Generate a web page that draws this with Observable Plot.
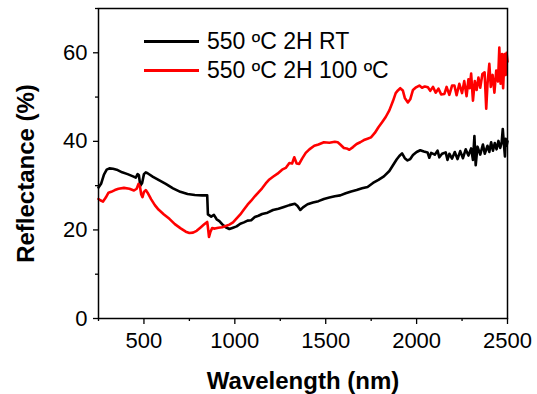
<!DOCTYPE html>
<html>
<head>
<meta charset="utf-8">
<script src="https://cdn.jsdelivr.net/npm/d3@7"></script>
<script src="https://cdn.jsdelivr.net/npm/@observablehq/plot@0.6"></script>
<style>
  body { margin: 0; background: white; }
  #wrap { position: relative; width: 537px; height: 394px; font-family: 'Liberation Sans', Arial, sans-serif; }
  #legend { position: absolute; left: 144px; top: 27px; }
  .row { display: flex; align-items: center; height: 29px; }
  .sw { width: 55px; height: 3px; margin-right: 8px; }
  .lab { font-size: 23px; color: black; white-space: nowrap; line-height: 29px; }
</style>
</head>
<body>
<div id="wrap"><div id="legend"></div></div>
<script>
const seriesNames = ["550 ºC 2H RT", "550 ºC 2H 100 ºC"];
const seriesColors = ["#000000", "#ff0000"];
const xTitle = "Wavelength (nm)";
const yTitle = "Reflectance (%)";
const xTicks = [500, 1000, 1500, 2000, 2500];
const xMinor = [250, 750, 1250, 1750, 2250];
const yTicks = [0, 20, 40, 60];
const yMinor = [10, 30, 50, 70];

const wlRT = [250,265,280,295,310,330,350,380,410,440,455,465,472,480,490,500,510,520,550,580,620,660,700,740,780,820,848,852,870,885,900,915,930,950,970,990,1010,1030,1050,1070,1090,1110,1130,1150,1180,1210,1240,1270,1300,1330,1345,1360,1375,1400,1430,1460,1490,1520,1550,1580,1610,1640,1670,1700,1730,1760,1790,1820,1850,1870,1890,1905,1920,1935,1950,1965,1980,2000,2020,2040,2060,2070,2080,2100,2115,2125,2140,2160,2170,2180,2195,2210,2225,2240,2255,2270,2285,2300,2310,2318,2325,2335,2350,2365,2375,2390,2400,2410,2420,2430,2440,2450,2460,2468,2474,2480,2486,2490,2495,2500];
const rRT = [29.6,30.5,32.5,33.6,33.9,33.8,33.6,33.0,32.6,32.1,31.8,32.6,32.4,30.0,30.6,32.6,33.0,32.8,32.0,31.3,30.4,29.4,28.6,28.1,27.9,27.8,27.8,23.5,23.0,23.4,22.4,22.0,21.3,20.6,20.2,20.5,20.8,21.4,21.7,22.1,22.2,22.9,23.2,23.6,23.9,24.5,24.8,25.2,25.6,25.9,25.4,24.5,25.1,25.8,26.2,26.5,27.0,27.3,27.6,27.8,28.3,28.7,29.0,29.4,29.7,30.6,31.3,32.1,33.3,34.6,35.9,36.7,37.3,36.2,35.7,36.0,36.9,37.6,38.0,37.7,37.5,36.3,37.4,37.0,37.9,36.4,37.2,37.5,35.8,37.2,36.1,37.6,36.0,37.8,36.2,38.2,36.8,38.4,35.8,41.2,34.6,38.8,37.0,39.3,37.2,39.0,37.6,39.8,37.9,39.6,38.2,40.1,38.5,39.8,42.8,39.5,36.6,40.6,39.0,40.0];

const wl100 = [250,260,275,290,305,320,340,360,390,420,445,460,470,478,485,492,500,510,520,540,560,580,610,640,670,700,730,750,770,790,810,830,848,852,858,866,875,890,910,930,950,970,990,1010,1030,1050,1070,1090,1110,1130,1150,1170,1190,1210,1235,1260,1280,1300,1315,1327,1340,1354,1370,1390,1410,1437,1460,1490,1520,1550,1566,1580,1600,1615,1630,1650,1670,1690,1710,1730,1749,1770,1790,1810,1830,1850,1870,1885,1897,1910,1924,1935,1952,1965,1980,1997,2015,2030,2045,2062,2075,2090,2105,2120,2135,2153,2165,2180,2195,2208,2220,2235,2250,2262,2275,2285,2292,2300,2310,2320,2330,2340,2350,2362,2374,2383,2390,2400,2408,2418,2428,2438,2448,2455,2462,2470,2476,2484,2490,2495,2500];
const r100 = [27.0,26.7,26.4,27.3,28.4,28.6,29.0,29.3,29.5,29.3,28.9,29.3,30.4,29.8,28.0,27.4,28.6,29.0,28.4,26.9,25.6,24.6,23.5,22.5,21.3,20.4,19.6,19.3,19.4,19.8,20.5,21.2,21.8,20.6,18.4,19.6,20.4,20.3,20.5,20.6,20.9,21.2,21.7,22.6,23.5,24.6,25.7,26.6,27.6,28.5,29.4,30.5,31.4,32.0,32.7,33.6,34.0,35.1,35.0,36.4,35.0,34.9,36.1,37.4,38.2,39.0,39.3,39.8,39.7,39.9,39.8,39.3,38.5,38.4,38.1,38.7,39.4,39.8,40.3,40.6,40.9,41.9,43.2,44.3,45.5,47.0,49.1,50.9,51.5,52.0,51.5,49.8,48.8,49.5,51.6,52.2,52.6,52.1,52.4,52.2,51.4,52.3,51.0,51.9,50.6,50.7,52.3,50.5,52.6,52.6,50.4,53.0,50.9,53.6,50.2,54.0,52.0,55.3,49.2,53.6,51.6,54.4,52.1,55.2,55.6,47.4,53.0,57.5,52.3,55.0,51.0,56.0,53.5,61.2,53.0,59.7,52.0,59.7,55.0,60.0,58.0];

const rt = wlRT.map((x, i) => ({x, y: rRT[i]}));
const h100 = wl100.map((x, i) => ({x, y: r100[i]}));

const chart = Plot.plot({
  width: 537,
  height: 394,
  marginLeft: 98,
  marginRight: 30,
  marginTop: 8,
  marginBottom: 76,
  x: {domain: [250, 2500]},
  y: {domain: [0, 70]},
  style: {fontFamily: "'Liberation Sans', Arial, sans-serif", fontSize: "22px", color: "black", background: "white", overflow: "visible"},
  marks: [
    Plot.axisX({ticks: xTicks, tickSize: 6, tickPadding: 8, tickFormat: d => String(d), label: null, strokeWidth: 1.3}),
    Plot.axisX({ticks: xMinor, tickSize: 3, tickFormat: () => "", label: null, strokeWidth: 1.3}),
    Plot.axisY({ticks: yTicks, tickSize: 5, tickPadding: 6, tickFormat: d => String(d), label: null, strokeWidth: 1.3}),
    Plot.axisY({ticks: yMinor, tickSize: 3, tickFormat: () => "", label: null, strokeWidth: 1.3}),
    Plot.line(rt, {x: "x", y: "y", stroke: seriesColors[0], strokeWidth: 2.6}),
    Plot.line(h100, {x: "x", y: "y", stroke: seriesColors[1], strokeWidth: 2.6}),
    Plot.frame({stroke: "black", strokeWidth: 1.5}),
    Plot.text([xTitle], {text: d => d, frameAnchor: "bottom", textAnchor: "middle", dy: 70, fontWeight: "bold", fontSize: 24}),
    Plot.text([yTitle], {text: d => d, frameAnchor: "left", textAnchor: "middle", rotate: -90, dx: -72, dy: 10, fontWeight: "bold", fontSize: 24})
  ]
});
document.getElementById("wrap").prepend(chart);

const legend = document.getElementById("legend");
seriesNames.forEach((name, i) => {
  const row = document.createElement("div");
  row.className = "row";
  const sw = document.createElement("div");
  sw.className = "sw";
  sw.style.background = seriesColors[i];
  const lab = document.createElement("span");
  lab.className = "lab";
  lab.textContent = name;
  row.append(sw, lab);
  legend.append(row);
});
</script>
</body>
</html>
